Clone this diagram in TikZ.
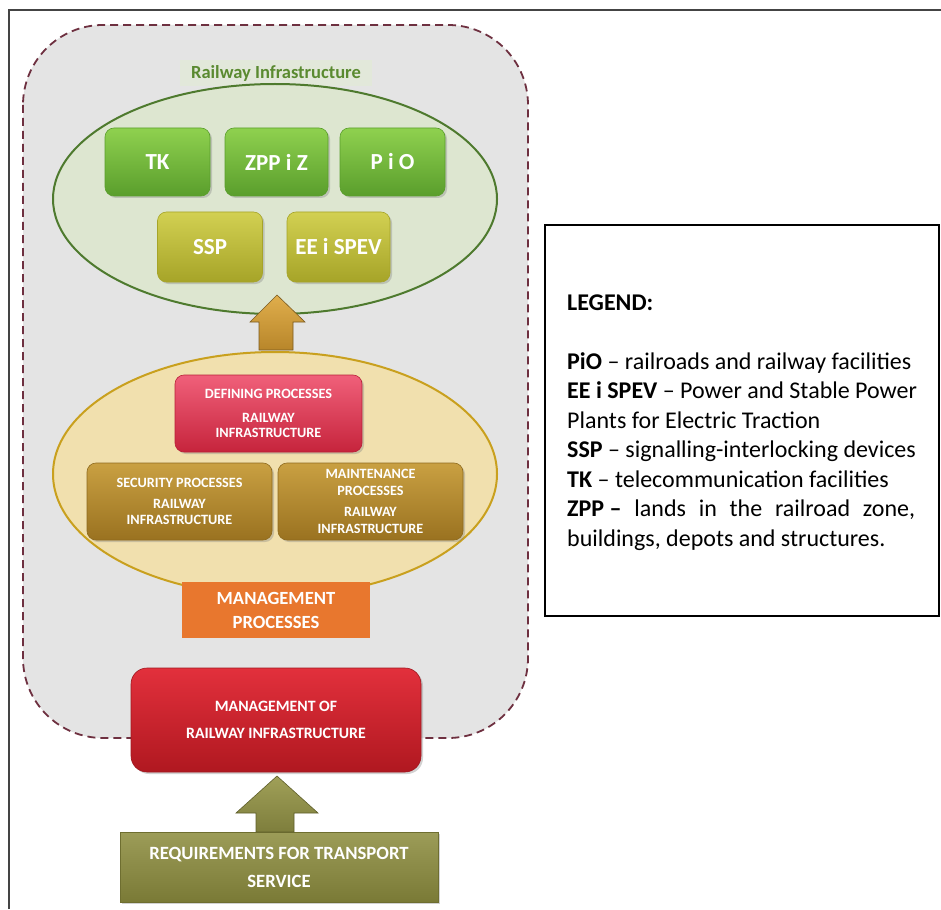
\documentclass[tikz,border=0pt]{standalone}
\usepackage{fontspec}
\setmainfont{Carlito}
\usetikzlibrary{shadows}
\definecolor{regionfill}{HTML}{E4E4E4}
\definecolor{dashcol}{HTML}{6E3040}
\definecolor{frameline}{HTML}{444444}
\definecolor{gell}{HTML}{DDE6D0}
\definecolor{gellline}{HTML}{4E7A2E}
\definecolor{yell}{HTML}{F1E0AE}
\definecolor{yellline}{HTML}{C9A01E}
\definecolor{labgreen}{HTML}{5A8A30}
\definecolor{labpatch}{HTML}{E2E8DA}
\definecolor{HTML8FD14F}{HTML}{8FD14F}
\definecolor{HTML5A9E2C}{HTML}{5A9E2C}
\definecolor{HTMLD2D052}{HTML}{D2D052}
\definecolor{HTMLA6A428}{HTML}{A6A428}
\definecolor{HTMLF0607A}{HTML}{F0607A}
\definecolor{HTMLC6243C}{HTML}{C6243C}
\definecolor{HTMLB82038}{HTML}{B82038}
\definecolor{HTMLC9A042}{HTML}{C9A042}
\definecolor{HTML9A7220}{HTML}{9A7220}
\definecolor{HTML8E6A1E}{HTML}{8E6A1E}
\definecolor{HTMLE8772E}{HTML}{E8772E}
\definecolor{HTMLE2303C}{HTML}{E2303C}
\definecolor{HTMLB01820}{HTML}{B01820}
\definecolor{HTMLA01820}{HTML}{A01820}
\definecolor{HTML9C9C58}{HTML}{9C9C58}
\definecolor{HTML7A7A36}{HTML}{7A7A36}
\definecolor{HTML6E6E30}{HTML}{6E6E30}
\definecolor{HTMLE0AE4C}{HTML}{E0AE4C}
\definecolor{HTMLB8862A}{HTML}{B8862A}
\definecolor{HTML7A5A20}{HTML}{7A5A20}
\definecolor{HTMLA0A058}{HTML}{A0A058}
\definecolor{HTML7E7E3C}{HTML}{7E7E3C}
\definecolor{HTML5E5E2A}{HTML}{5E5E2A}
\tikzset{
  frame/.style={draw=frameline, line width=2pt},
  region/.style={draw=dashcol, fill=regionfill, line width=1.8pt, dash pattern=on 8pt off 5pt, rounded corners=80pt},
  boxbase/.style={rounded corners=9pt, text=white, font=\bfseries, align=center, inner sep=2pt,
    drop shadow={shadow xshift=2pt, shadow yshift=-2pt, opacity=0.35}},
  greenbox/.style={boxbase, top color=HTML8FD14F, bottom color=HTML5A9E2C, draw=HTML5A9E2C, line width=0.6pt,
    minimum height=68pt, font=\bfseries\fontsize{23}{25}\selectfont},
  olivebox/.style={boxbase, top color=HTMLD2D052, bottom color=HTMLA6A428, draw=HTMLA6A428, line width=0.6pt,
    minimum height=70pt, font=\bfseries\fontsize{23}{25}\selectfont},
  defbox/.style={boxbase, top color=HTMLF0607A, bottom color=HTMLC6243C, draw=HTMLB82038, line width=0.6pt,
    font=\bfseries\fontsize{14.2}{15.5}\selectfont},
  procbox/.style={boxbase, top color=HTMLC9A042, bottom color=HTML9A7220, draw=HTML8E6A1E, line width=0.6pt,
    font=\bfseries\fontsize{14.2}{16.5}\selectfont},
  mgmtproc/.style={fill=HTMLE8772E, text=white, align=center, font=\bfseries\fontsize{18.6}{24}\selectfont},
  redbox/.style={boxbase, rounded corners=16pt, top color=HTMLE2303C, bottom color=HTMLB01820, draw=HTMLA01820, line width=0.6pt,
    font=\bfseries\fontsize{15.8}{27}\selectfont},
  reqbox/.style={boxbase, rounded corners=0pt, top color=HTML9C9C58, bottom color=HTML7A7A36, draw=HTML6E6E30, line width=0.6pt,
    font=\bfseries\fontsize{18.7}{28}\selectfont},
  goldarrow/.style={top color=HTMLE0AE4C, bottom color=HTMLB8862A, draw=HTML7A5A20, line width=0.6pt},
  olivearrow/.style={top color=HTMLA0A058, bottom color=HTML7E7E3C, draw=HTML5E5E2A, line width=0.6pt},
  legendframe/.style={draw=black, line width=1.6pt},
  legendtext/.style={anchor=base west, align=left, inner sep=0pt, text=black,
    font=\fontsize{24}{29.5}\selectfont},
}
\begin{document}
\begin{tikzpicture}[x=1pt,y=-1pt]
\useasboundingbox (0,0) rectangle (941,909);
\fill[white] (0,0) rectangle (941,909);
% outer frame
\draw[frame] (9,909) -- (9,10) -- (941,10);
% dashed region
\draw[region] (23,25) rectangle (528,738);
% label
\fill[labpatch] (180,60) rectangle (372,86);
\node[text=labgreen, font=\bfseries\fontsize{18.5}{20}\selectfont] (lab) at (276,73) {Railway Infrastructure};
% green ellipse
\draw[fill=gell, draw=gellline, line width=2pt] (275,199) ellipse [x radius=222, y radius=115];
\node[greenbox, minimum width=105pt] (tk) at (157.5,162) {TK};
\node[greenbox, minimum width=103pt] (zpp) at (276.5,162) {ZPP i Z};
\node[greenbox, minimum width=105pt] (pio) at (392.5,162) {P i O};
\node[olivebox, minimum width=105pt] (ssp) at (210,247) {SSP};
\node[olivebox, minimum width=103pt] (ee) at (338.5,247) {EE i SPEV};
% yellow ellipse
\draw[fill=yell, draw=yellline, line width=2pt] (275,474) ellipse [x radius=222, y radius=122];
\node[defbox, minimum width=187pt, minimum height=77pt] (def) at (268.5,413.5) {DEFINING PROCESSES\\[8pt]RAILWAY\\INFRASTRUCTURE};
\node[procbox, minimum width=185pt, minimum height=77pt] (sec) at (179.5,501.5) {SECURITY PROCESSES\\[4pt]RAILWAY\\INFRASTRUCTURE};
\node[procbox, minimum width=185pt, minimum height=77pt] (mnt) at (370.5,501.5) {MAINTENANCE\\PROCESSES\\[5pt]RAILWAY\\INFRASTRUCTURE};
\node[mgmtproc, minimum width=188pt, minimum height=56pt] (mp) at (276,610) {MANAGEMENT\\PROCESSES};
% arrow 1 (yellow ellipse -> green ellipse)
\draw[goldarrow] (277,295) -- (305,322) -- (293,322) -- (293,350) -- (259,350) -- (259,322) -- (250,322) -- cycle;
% management of railway infrastructure
\node[redbox, minimum width=290pt, minimum height=104pt] (mri) at (276,720) {MANAGEMENT OF\\RAILWAY INFRASTRUCTURE};
% requirements
\node[reqbox, minimum width=318pt, minimum height=70pt] (req) at (279,867) {REQUIREMENTS FOR TRANSPORT\\SERVICE};
% arrow 2 (requirements -> management)
\draw[olivearrow] (277,776) -- (318,813) -- (294,813) -- (294,832) -- (256,832) -- (256,813) -- (236,813) -- cycle;
% legend
\draw[legendframe] (545,225) rectangle (939,616);
\node[legendtext] (leg) at (567,546)
{\textbf{LEGEND:}\\[29.5pt]
\textbf{PiO} -- railroads and railway facilities\\
\textbf{EE i SPEV} -- Power and Stable Power\\
Plants for Electric Traction\\
\textbf{SSP} -- signalling-interlocking devices\\
\textbf{TK} -- telecommunication facilities\\
\hbox to 348pt{\textbf{ZPP --}\hfill lands\hfill in\hfill the\hfill railroad\hfill zone,}\\
buildings, depots and structures.};
\end{tikzpicture}
\end{document}
